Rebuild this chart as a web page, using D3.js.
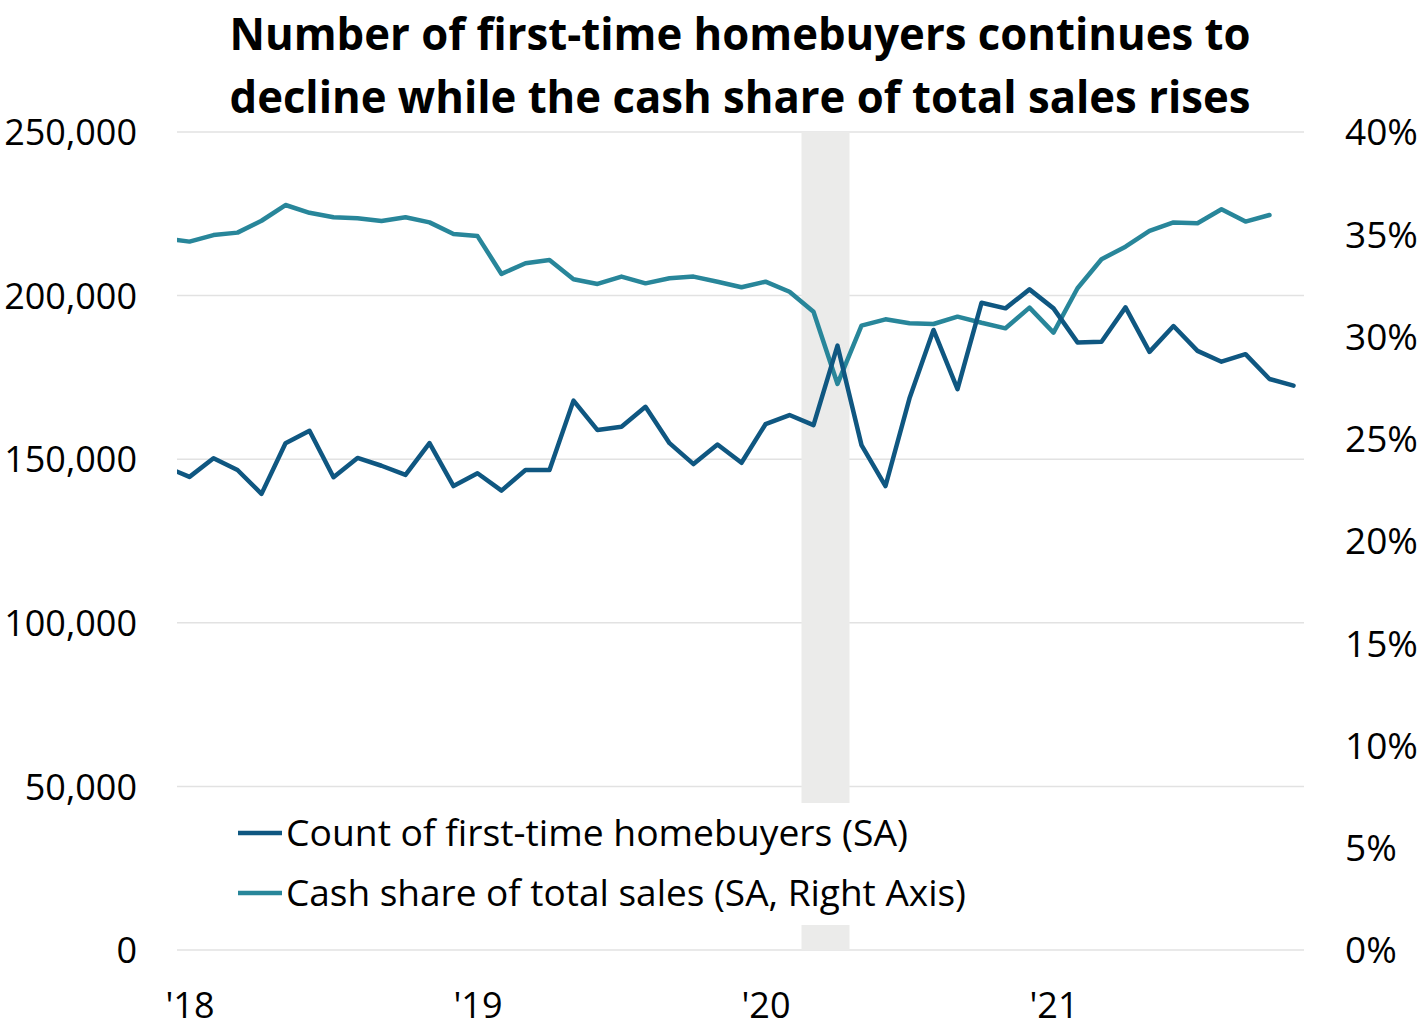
<!DOCTYPE html>
<html>
<head>
<meta charset="utf-8">
<script src="https://cdn.jsdelivr.net/npm/d3@7"></script>
<style>
  html, body { margin: 0; padding: 0; background: #fff; }
  svg { display: block; }
</style>
</head>
<body>
<svg id="chart" width="1423" height="1033"></svg>
<script>
// ---------- DATA ----------
const months = [
  "2017-12",
  "2018-01","2018-02","2018-03","2018-04","2018-05","2018-06","2018-07","2018-08","2018-09","2018-10","2018-11","2018-12",
  "2019-01","2019-02","2019-03","2019-04","2019-05","2019-06","2019-07","2019-08","2019-09","2019-10","2019-11","2019-12",
  "2020-01","2020-02","2020-03","2020-04","2020-05","2020-06","2020-07","2020-08","2020-09","2020-10","2020-11","2020-12",
  "2021-01","2021-02","2021-03","2021-04","2021-05","2021-06","2021-07","2021-08","2021-09","2021-10","2021-11"
];
const firstTimeBuyers = [
  147700,
  144600,150300,146700,139400,154900,158700,144500,150400,148000,145200,154900,141800,
  145700,140400,146700,146700,167900,158900,159900,166000,154900,148500,154500,148900,
  160700,163500,160400,184700,154300,141800,168600,189500,171400,197800,196100,201900,
  196100,185700,185900,196400,182800,190700,183100,179800,182100,174500,172500
];
const cashShare = [
  0.3480,
  0.3464,0.3496,0.3508,0.3566,0.3643,0.3605,0.3583,0.3578,0.3565,0.3583,0.3558,0.3501,
  0.3491,0.3306,0.3358,0.3374,0.3280,0.3257,0.3293,0.3260,0.3285,0.3293,0.3268,0.3241,
  0.3268,0.3219,0.3121,0.2768,0.3053,0.3084,0.3065,0.3061,0.3097,0.3067,0.3040,0.3141,
  0.3019,0.3236,0.3378,0.3439,0.3516,0.3558,0.3554,0.3622,0.3562,0.3594
];
const leftTicks = [0, 50000, 100000, 150000, 200000, 250000];
const rightTicks = [0, 0.05, 0.10, 0.15, 0.20, 0.25, 0.30, 0.35, 0.40];
const yearTickMonths = ["2018-01","2019-01","2020-01","2021-01"];
const yearTickLabels = ["'18","'19","'20","'21"];
const recessionMonths = ["2020-03","2020-04"];
const titleLines = [
  "Number of first-time homebuyers continues to",
  "decline while the cash share of total sales rises"
];
const seriesNames = [
  "Count of first-time homebuyers (SA)",
  "Cash share of total sales (SA, Right Axis)"
];

// ---------- LAYOUT ----------
const svg = d3.select("#chart");
const plot = { left: 177, right: 1304, top: 132, bottom: 950 };
const colDark = "#0f5781";
const colTeal = "#28869a";
const FONT = "'Open Sans', 'Noto Sans', sans-serif";

// month index with Jan 2018 = 0
const idx0 = months.indexOf("2018-01");
const mIndex = m => months.indexOf(m) - idx0;

const x = d3.scaleLinear().domain([-0.5, 46.5]).range([177.5, 1305.5]);
const yL = d3.scaleLinear().domain([0, 250000]).range([plot.bottom, plot.top]);
const yR = d3.scaleLinear().domain([0, 0.40]).range([plot.bottom, plot.top]);

// clip
svg.append("defs").append("clipPath").attr("id", "clip")
  .append("rect").attr("x", plot.left).attr("y", 0)
  .attr("width", plot.right - plot.left).attr("height", 1033);

// gridlines
svg.append("g").selectAll("line").data(leftTicks).join("line")
  .attr("x1", plot.left).attr("x2", plot.right)
  .attr("y1", d => yL(d)).attr("y2", d => yL(d))
  .attr("stroke", "#e2e2e2").attr("stroke-width", 1.5);

// recession bar
const r0 = mIndex(recessionMonths[0]) - 0.5;
const r1 = mIndex(recessionMonths[recessionMonths.length - 1]) + 0.5;
svg.append("rect")
  .attr("x", x(r0)).attr("width", x(r1) - x(r0))
  .attr("y", plot.top).attr("height", plot.bottom - plot.top)
  .attr("fill", "#ebebea");

// lines
const gLines = svg.append("g").attr("clip-path", "url(#clip)");
const lineL = d3.line().x((d, i) => x(mIndex(months[i]))).y(d => yL(d));
const lineR = d3.line().x((d, i) => x(mIndex(months[i]))).y(d => yR(d));
gLines.append("path").datum(cashShare).attr("d", lineR)
  .attr("fill", "none").attr("stroke", colTeal).attr("stroke-width", 4.5)
  .attr("stroke-linejoin", "round").attr("stroke-linecap", "round");
gLines.append("path").datum(firstTimeBuyers).attr("d", lineL)
  .attr("fill", "none").attr("stroke", colDark).attr("stroke-width", 4.5)
  .attr("stroke-linejoin", "round").attr("stroke-linecap", "round");

// axes
const axL = svg.append("g").attr("transform", `translate(${plot.left - 40},0)`)
  .call(d3.axisLeft(yL).tickValues(leftTicks).tickSize(0).tickPadding(0).tickFormat(d3.format(",")));
const axR = svg.append("g").attr("transform", `translate(${1345},0)`)
  .call(d3.axisRight(yR).tickValues(rightTicks).tickSize(0).tickPadding(0).tickFormat(d3.format(".0%")));
const axB = svg.append("g").attr("transform", `translate(0,${1005})`)
  .call(d3.axisBottom(x).tickValues(yearTickMonths.map(mIndex)).tickSize(0).tickPadding(0)
    .tickFormat((d, i) => yearTickLabels[i]));
[axL, axR, axB].forEach(a => {
  a.select(".domain").remove();
  a.selectAll("text").attr("font-family", FONT).attr("font-size", 36).attr("fill", "#000");
});
axR.selectAll("text").attr("font-size", 37);
axL.selectAll("text").attr("dy", "0.35em");
axR.selectAll("text").attr("dy", "0.35em");
axB.selectAll("text").attr("dy", "0.35em");

// legend
const lg = svg.append("g");
lg.append("rect").attr("x", 228).attr("y", 803).attr("width", 750).attr("height", 122).attr("fill", "#fff");
const legendRows = [
  { name: seriesNames[0], color: colDark, y: 833, w: 622 },
  { name: seriesNames[1], color: colTeal, y: 893, w: 680 }
];
legendRows.forEach(r => {
  lg.append("line").attr("x1", 238).attr("x2", 282).attr("y1", r.y).attr("y2", r.y)
    .attr("stroke", r.color).attr("stroke-width", 4.5);
  lg.append("text").attr("x", 286).attr("y", r.y).attr("dy", "0.35em")
    .attr("font-family", FONT).attr("font-size", 36).attr("fill", "#000")
    .attr("textLength", r.w).attr("lengthAdjust", "spacingAndGlyphs")
    .text(r.name);
});

// title
svg.append("g").selectAll("text").data(titleLines).join("text")
  .attr("x", 740).attr("y", (d, i) => i === 0 ? 50 : 113)
  .attr("text-anchor", "middle")
  .attr("font-family", FONT).attr("font-weight", 700).attr("font-size", 44)
  .attr("fill", "#000")
  .attr("textLength", 1021).attr("lengthAdjust", "spacingAndGlyphs")
  .text(d => d);
</script>
</body>
</html>
